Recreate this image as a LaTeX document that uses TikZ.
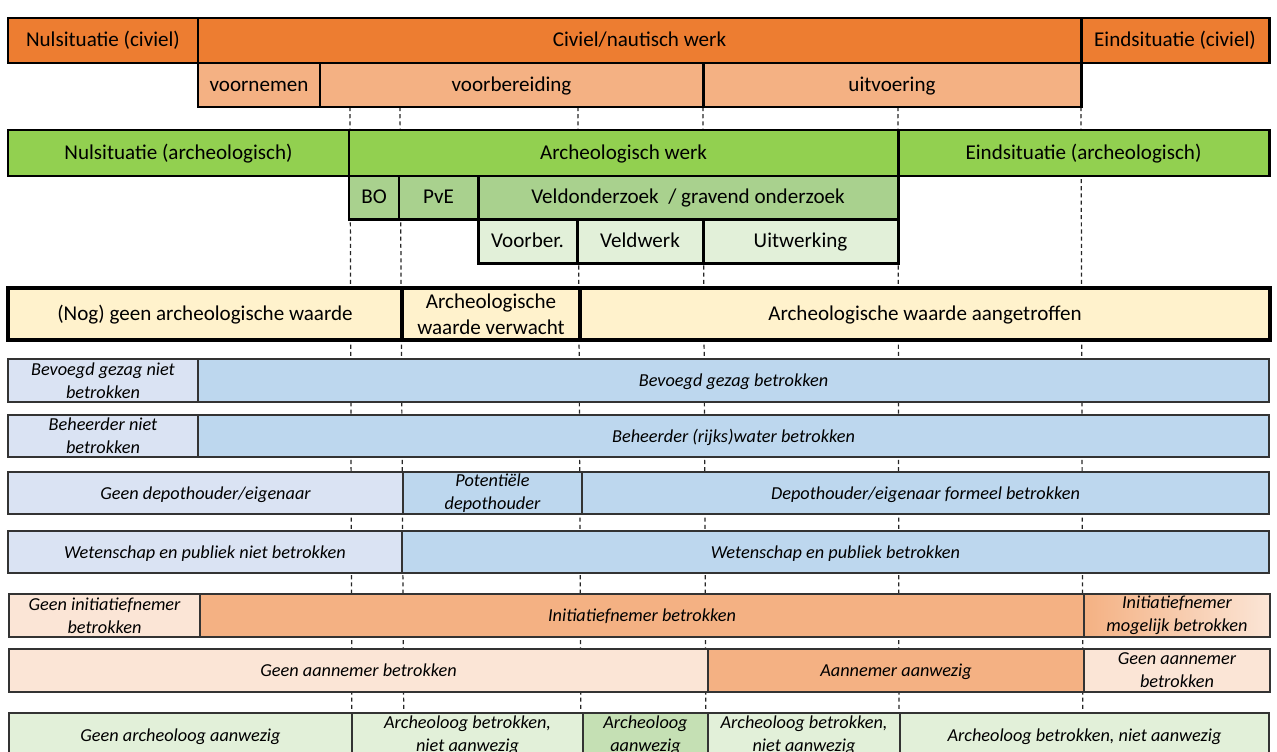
\documentclass[tikz,border=0pt]{standalone}
\usepackage{fontspec}
\setmainfont{Carlito}
\definecolor{civOranje}{HTML}{ED7D31}
\definecolor{civLicht}{HTML}{F4B183}
\definecolor{civBleek}{HTML}{FBE5D6}
\definecolor{archGroen}{HTML}{92D050}
\definecolor{archMidden}{HTML}{A9D18E}
\definecolor{archLicht}{HTML}{E2F0D9}
\definecolor{archAanw}{HTML}{C5E0B4}
\definecolor{waardeGeel}{HTML}{FFF2CC}
\definecolor{rolBleek}{HTML}{DAE3F3}
\definecolor{rolBlauw}{HTML}{BDD7EE}

\begin{document}
\begin{tikzpicture}[x=0.02cm, y=-0.02cm,
    hoofd/.style={draw=black, line width=1.7pt, align=center,
      text height=1.5ex, text depth=0pt,
      font=\fontsize{12}{14.8}\selectfont},
    waarde/.style={hoofd, line width=1.9pt, fill=waardeGeel},
    rol/.style={draw=black!80, line width=0.9pt, align=center,
      text height=1.5ex, text depth=0pt,
      font=\fontsize{10.4}{13}\selectfont\itshape},
    twee/.style={text height={}, text depth={}},
    fase/.style={black!85, line width=0.7pt, dash pattern=on 2.3pt off 1.8pt}]
  \useasboundingbox (0,0) rectangle (1277,751);
  \clip (0,0) rectangle (1277,751);

  \foreach \xa/\xb in {350/352, 400/404, 578/581, 703/706, 898/899, 1081/1083}
    \draw[fase] (\xa,107) -- (\xb,760);

  % civiel
  \draw[hoofd, fill=civOranje] (8,18) rectangle node (nulCiv) {Nulsituatie (civiel)} (198,63);
  \draw[hoofd, fill=civOranje] (198,18) rectangle node (civWerk) {Civiel/nautisch werk} (1081,63);
  \draw[hoofd, fill=civOranje] (1081,18) rectangle node (eindCiv) {Eindsituatie (civiel)} (1269,63);
  \draw[hoofd, fill=civLicht] (198,63) rectangle node (voornemen) {voornemen} (320,107);
  \draw[hoofd, fill=civLicht] (320,63) rectangle node (voorber) {voorbereiding} (703,107);
  \draw[hoofd, fill=civLicht] (703,63) rectangle node (uitv) {uitvoering} (1081,107);

  % archeologisch
  \draw[hoofd, fill=archGroen] (8,130) rectangle node (nulArch) {Nulsituatie (archeologisch)} (349,176);
  \draw[hoofd, fill=archGroen] (349,130) rectangle node (archWerk) {Archeologisch werk} (898,176);
  \draw[hoofd, fill=archGroen] (898,130) rectangle node (eindArch) {Eindsituatie (archeologisch)} (1269,176);
  \draw[hoofd, fill=archMidden] (349,176) rectangle node (bo) {BO} (399,219);
  \draw[hoofd, fill=archMidden] (399,176) rectangle node (pve) {PvE} (478,219);
  \draw[hoofd, fill=archMidden] (478,176) rectangle node (veldOz) {Veldonderzoek \ / gravend onderzoek} (898,219);
  \draw[hoofd, fill=archLicht] (478,219) rectangle node (voorb) {Voorber.} (577,263);
  \draw[hoofd, fill=archLicht] (577,219) rectangle node (veldwerk) {Veldwerk} (703,263);
  \draw[hoofd, fill=archLicht] (703,219) rectangle node (uitwerking) {Uitwerking} (898,263);

  % waarde
  \draw[waarde] (8,288) rectangle node (geenWaarde) {(Nog) geen archeologische waarde} (402,340);
  \draw[waarde] (402,288) rectangle node[twee] (verwacht) {Archeologische\\waarde verwacht} (580,340);
  \draw[waarde] (580,288) rectangle node (aangetr) {Archeologische waarde aangetroffen} (1270,340);

  % betrokkenen
  \draw[rol, fill=rolBleek] (8,359) rectangle node[twee] (bgNiet) {Bevoegd gezag niet\\betrokken} (198,402);
  \draw[rol, fill=rolBlauw] (198,359) rectangle node (bgWel) {Bevoegd gezag betrokken} (1269,402);
  \draw[rol, fill=rolBleek] (8,415) rectangle node[twee] (behNiet) {Beheerder niet\\betrokken} (198,457);
  \draw[rol, fill=rolBlauw] (198,415) rectangle node (behWel) {Beheerder (rijks)water betrokken} (1269,457);
  \draw[rol, fill=rolBleek] (8,472) rectangle node (depGeen) {Geen depothouder/eigenaar} (403,514);
  \draw[rol, fill=rolBlauw] (403,472) rectangle node[twee] (depPot) {Potentiële\\depothouder} (582,514);
  \draw[rol, fill=rolBlauw] (582,472) rectangle node (depWel) {Depothouder/eigenaar formeel betrokken} (1269,514);
  \draw[rol, fill=rolBleek] (8,531) rectangle node (wpNiet) {Wetenschap en publiek niet betrokken} (402,573);
  \draw[rol, fill=rolBlauw] (402,531) rectangle node (wpWel) {Wetenschap en publiek betrokken} (1269,573);
  \draw[rol, fill=civBleek] (9,594) rectangle node[twee] (initGeen) {Geen initiatiefnemer\\betrokken} (200,637);
  \draw[rol, fill=civLicht] (200,594) rectangle node (initWel) {Initiatiefnemer betrokken} (1084,637);
  \draw[rol, left color=civLicht, right color=civBleek] (1084,594) rectangle node[twee] (initMog) {Initiatiefnemer\\mogelijk betrokken} (1270,637);
  \draw[rol, fill=civBleek] (9,649) rectangle node (aanGeen) {Geen aannemer betrokken} (708,692);
  \draw[rol, fill=civLicht] (708,649) rectangle node (aanWel) {Aannemer aanwezig} (1084,692);
  \draw[rol, fill=civBleek] (1084,649) rectangle node[twee] (aanEind) {Geen aannemer\\betrokken} (1270,692);
  \draw[rol, fill=archLicht] (9,713) rectangle node (arGeen) {Geen archeoloog aanwezig} (352,757);
  \draw[rol, fill=archLicht] (352,713) rectangle node[twee] (arBetr) {Archeoloog betrokken,\\niet aanwezig} (583,757);
  \draw[rol, fill=archAanw] (583,713) rectangle node[twee] (arAanw) {Archeoloog\\aanwezig} (708,757);
  \draw[rol, fill=archLicht] (708,713) rectangle node[twee] (arBetr2) {Archeoloog betrokken,\\niet aanwezig} (900,757);
  \draw[rol, fill=archLicht] (900,713) rectangle node (arEind) {Archeoloog betrokken, niet aanwezig} (1269,757);
\end{tikzpicture}
\end{document}
